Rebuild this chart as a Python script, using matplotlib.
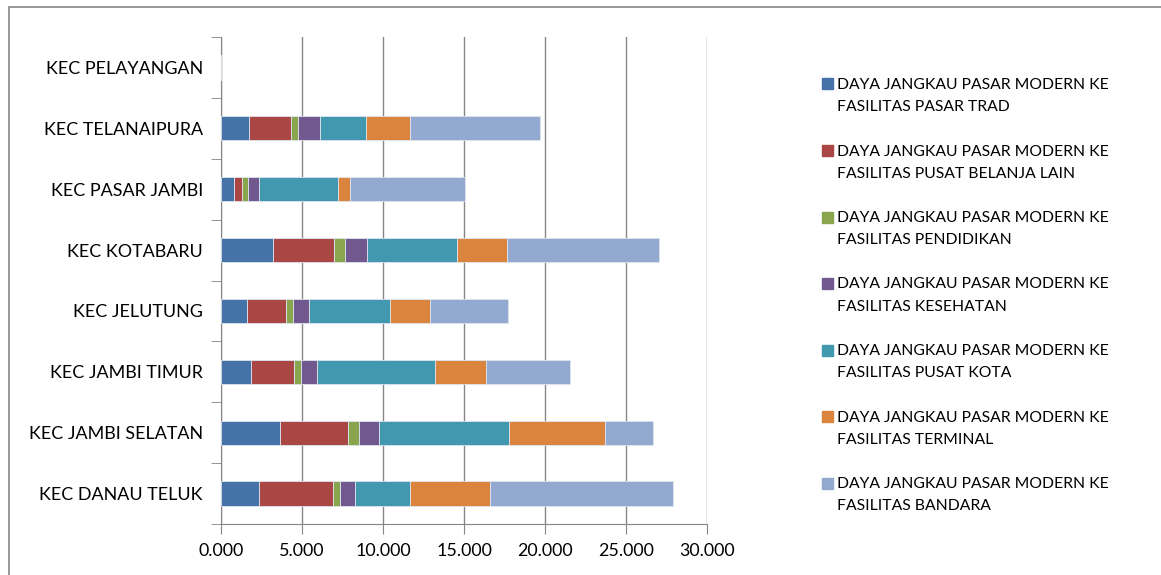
import matplotlib.pyplot as plt
import matplotlib.patches as mpatches
from matplotlib.ticker import FuncFormatter, FixedLocator
import numpy as np

plt.rcParams['font.family'] = ['Lato', 'DejaVu Sans']

# kecamatan, urut dari bawah ke atas (seperti Excel)
kecamatan = ["KEC DANAU TELUK", "KEC JAMBI SELATAN", "KEC JAMBI TIMUR", "KEC JELUTUNG",
             "KEC KOTABARU", "KEC PASAR JAMBI", "KEC TELANAIPURA", "KEC PELAYANGAN"]

# daya jangkau per fasilitas
pasar_trad    = [2.367, 3.643, 1.832, 1.585, 3.190, 0.782, 1.708, 0.0]
pusat_belanja = [4.568, 4.177, 2.654, 2.408, 3.766, 0.494, 2.593, 0.0]
pendidikan    = [0.433, 0.700, 0.453, 0.452, 0.700, 0.412, 0.474, 0.0]
kesehatan     = [0.885, 1.235, 1.009, 0.988, 1.337, 0.638, 1.317, 0.0]
pusat_kota    = [3.395, 8.006, 7.264, 4.980, 5.557, 4.877, 2.881, 0.0]
terminal      = [4.960, 5.968, 3.129, 2.470, 3.087, 0.741, 2.675, 0.0]
bandara       = [11.298, 2.943, 5.206, 4.836, 9.426, 7.141, 8.026, 0.0]

nama_seri = ["DAYA JANGKAU PASAR MODERN KE\nFASILITAS PASAR TRAD",
             "DAYA JANGKAU PASAR MODERN KE\nFASILITAS PUSAT BELANJA LAIN",
             "DAYA JANGKAU PASAR MODERN KE\nFASILITAS PENDIDIKAN",
             "DAYA JANGKAU PASAR MODERN KE\nFASILITAS KESEHATAN",
             "DAYA JANGKAU PASAR MODERN KE\nFASILITAS PUSAT KOTA",
             "DAYA JANGKAU PASAR MODERN KE\nFASILITAS TERMINAL",
             "DAYA JANGKAU PASAR MODERN KE\nFASILITAS BANDARA"]
warna = ["#4572A7", "#AA4643", "#89A54E", "#71588F", "#4198AF", "#DB843D", "#93A9CF"]

seri = [pasar_trad, pusat_belanja, pendidikan, kesehatan, pusat_kota, terminal, bandara]

W, H = 1161, 575
fig = plt.figure(figsize=(W / 100, H / 100), dpi=100)
ax = fig.add_axes([221 / W, 1 - 524 / H, (707 - 221) / W, (524 - 37) / H])

y = np.arange(len(kecamatan))
kiri = np.zeros(len(kecamatan))
for data, c in zip(seri, warna):
    ax.barh(y, data, left=kiri, height=0.4, color=c, edgecolor='#dde4ee', linewidth=0.6, zorder=3)
    kiri += np.array(data)

ax.set_xlim(0, 30)
ax.set_ylim(-0.5, len(kecamatan) - 0.5)
ax.set_xticks(np.arange(0, 30.1, 5))
ax.xaxis.set_major_formatter(FuncFormatter(lambda v, p: f"{v:.3f}"))
ax.set_yticks(y)
ax.set_yticklabels(kecamatan)
ax.yaxis.set_minor_locator(FixedLocator(np.arange(-0.5, len(kecamatan), 1)))

abu = '#868686'
ax.grid(axis='x', color=abu, linewidth=1.0, zorder=0)
for s in ['top', 'right']:
    ax.spines[s].set_visible(False)
ax.spines['left'].set_color(abu)
ax.spines['bottom'].set_color(abu)
ax.tick_params(axis='x', length=7, color=abu, labelsize=12.9, pad=7)
ax.tick_params(axis='y', which='major', length=0, labelsize=12.9, pad=13)
ax.tick_params(axis='y', which='minor', length=7, color=abu)

# legenda manual di kanan
for i, (nama, c) in enumerate(zip(nama_seri, warna)):
    yc = 84 + i * 66.5
    fig.patches.append(mpatches.Rectangle((822 / W, 1 - (yc + 5.5) / H), 11 / W, 11 / H,
                                          transform=fig.transFigure, color=c))
    fig.text(837 / W, 1 - (yc - 6) / H, nama, fontsize=11.3, va='top', ha='left',
             linespacing=1.75)

# bingkai luar
fig.patches.append(mpatches.Rectangle((9 / W, -0.1), 1.2, 1.1 - 7 / H, transform=fig.transFigure,
                                      fill=False, edgecolor=abu, linewidth=1.2))

fig.savefig("out.png", dpi=100)
